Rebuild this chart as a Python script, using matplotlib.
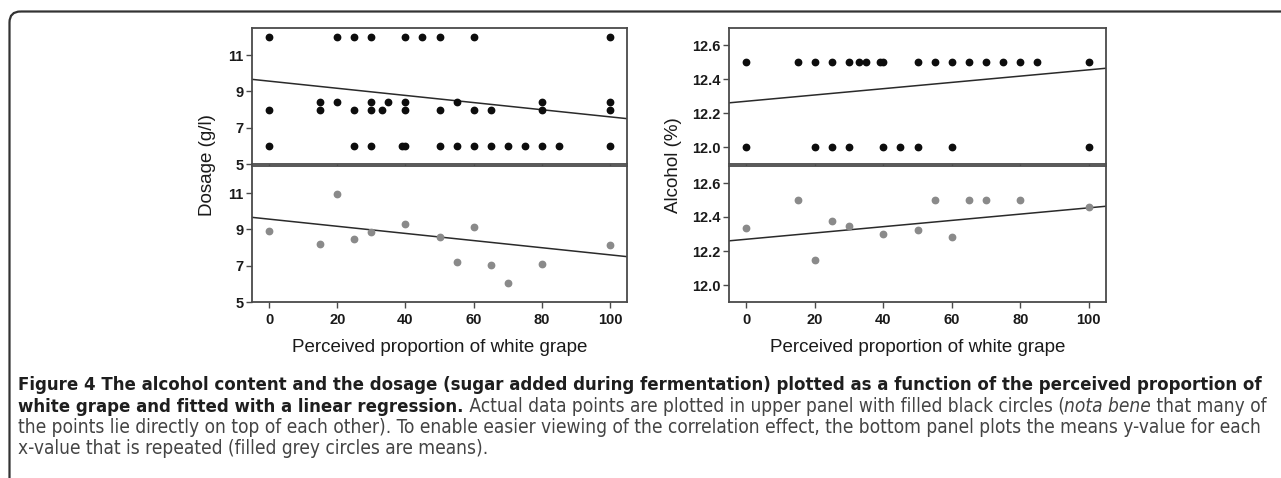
import numpy as np
import matplotlib
matplotlib.use("Agg")
import matplotlib.pyplot as plt
from matplotlib.patches import FancyBboxPatch

# upper panels: raw data, grouped by y level
dose_levels = [12.0, 8.4, 8.0, 6.0]
dose_x_by_level = [
    [0, 20, 25, 30, 40, 45, 50, 60, 100],
    [15, 20, 30, 35, 40, 55, 80, 100],
    [0, 15, 25, 30, 33, 40, 50, 60, 65, 80, 100],
    [0, 25, 30, 39, 40, 50, 55, 60, 65, 70, 75, 80, 85, 100],
]
alc_levels = [12.5, 12.0]
alc_x_by_level = [
    [0, 15, 20, 25, 30, 33, 35, 39, 40, 50, 55, 60, 65, 70, 75, 80, 85, 100],
    [0, 20, 25, 30, 40, 45, 50, 60, 100],
]

# lower panels: means for repeated x values
mean_x = [0, 15, 20, 25, 30, 40, 50, 55, 60, 65, 70, 80, 100]
dose_mean = [8.9, 8.2, 10.95, 8.5, 8.88, 9.28, 8.6, 7.22, 9.15, 7.03, 6.03, 7.1, 8.12]
alc_mean = [12.335, 12.5, 12.145, 12.375, 12.35, 12.30, 12.325, 12.5, 12.285, 12.5, 12.5, 12.5, 12.46]

# regression lines (intercept, slope)
dose_fit = (9.57, -0.0197)
alc_fit = (12.269, 0.00185)

xticks = [0, 20, 40, 60, 80, 100]
dose_ticks = [5, 7, 9, 11]
alc_ticks = [12.0, 12.2, 12.4, 12.6]

W, H = 1281, 478
fig = plt.figure(figsize=(W / 100, H / 100), dpi=100)
plt.rcParams['font.family'] = ['Liberation Sans', 'DejaVu Sans']

SPINE = '#4a4a4a'


def px_axes(l, t, r, b):
    return fig.add_axes([l / W, 1 - b / H, (r - l) / W, (b - t) / H])


def style(ax, yticks, ylim, fmt, show_x):
    ax.set_xlim(-5, 105)
    ax.set_ylim(*ylim)
    ax.set_yticks(yticks)
    ax.set_yticklabels([fmt.format(v) for v in yticks])
    ax.set_xticks(xticks)
    for s in ax.spines.values():
        s.set_color(SPINE)
        s.set_linewidth(1.3)
    ax.tick_params(axis='y', direction='out', length=4, width=1, color=SPINE,
                   labelsize=10.5, pad=2)
    if show_x:
        ax.tick_params(axis='x', direction='out', length=4, width=1, color=SPINE,
                       labelsize=10.5, pad=4)
    else:
        ax.tick_params(axis='x', direction='out', length=2, width=1, color=SPINE,
                       labelbottom=False)
    for lab in ax.get_xticklabels() + ax.get_yticklabels():
        lab.set_fontweight('bold')
        lab.set_color('#1a1a1a')


def fit_line(ax, fit):
    xs = np.array([-5, 105])
    ax.plot(xs, fit[0] + fit[1] * xs, color='#2a2a2a', lw=1.1, zorder=1)


# dosage column
ax1 = px_axes(252, 28, 627, 164)
for lev, xs in zip(dose_levels, dose_x_by_level):
    ax1.plot(xs, [lev] * len(xs), 'o', color='#0d0d0d', ms=4.6, zorder=3)
fit_line(ax1, dose_fit)
style(ax1, dose_ticks, (5, 12.5), '{:g}', False)

ax2 = px_axes(252, 166, 627, 302)
ax2.plot(mean_x, dose_mean, 'o', color='#8a8a8a', ms=4.6, zorder=3)
fit_line(ax2, dose_fit)
style(ax2, dose_ticks, (5, 12.5), '{:g}', True)

# alcohol column
ax3 = px_axes(729, 28, 1106, 164)
for lev, xs in zip(alc_levels, alc_x_by_level):
    ax3.plot(xs, [lev] * len(xs), 'o', color='#0d0d0d', ms=4.6, zorder=3)
fit_line(ax3, alc_fit)
style(ax3, alc_ticks, (11.9, 12.7), '{:.1f}', False)

ax4 = px_axes(729, 166, 1106, 302)
ax4.plot(mean_x, alc_mean, 'o', color='#8a8a8a', ms=4.6, zorder=3)
fit_line(ax4, alc_fit)
style(ax4, alc_ticks, (11.9, 12.7), '{:.1f}', True)

lab_kw = dict(fontsize=13.5, color='#1a1a1a')
fig.text(207 / W, 1 - 165 / H, 'Dosage (g/l)', rotation=90, ha='center', va='center', **lab_kw)
fig.text(673 / W, 1 - 165 / H, 'Alcohol (%)', rotation=90, ha='center', va='center', **lab_kw)
fig.text(439.5 / W, 1 - 348 / H, 'Perceived proportion of white grape', ha='center', va='center', **lab_kw)
fig.text(917.5 / W, 1 - 348 / H, 'Perceived proportion of white grape', ha='center', va='center', **lab_kw)

# caption and frame
cap = fig.add_axes([0, 0, 1, 1], zorder=-1)
cap.set_xlim(0, W)
cap.set_ylim(H, 0)
cap.axis('off')
cap.add_patch(FancyBboxPatch((9.5, 11.5), W + 40, H + 40,
                             boxstyle='round,pad=0,rounding_size=11',
                             fc='none', ec='#333333', lw=1.6))

cap_kw = dict(family=['DejaVu Sans'], fontstretch='condensed')
BOLD_C = '#1e1e1e'
REG_C = '#444444'

line1 = 'Figure 4 The alcohol content and the dosage (sugar added during fermentation) plotted as a function of the perceived proportion of'
line3 = 'the points lie directly on top of each other). To enable easier viewing of the correlation effect, the bottom panel plots the means y-value for each'
t1 = cap.text(18, 390, line1, fontweight='bold', color=BOLD_C,
              fontsize=10, va='baseline', ha='left', **cap_kw)
t3 = cap.text(18, 433, line3, color=REG_C, fontsize=10, va='baseline', ha='left', **cap_kw)
r = fig.canvas.get_renderer()
bfs = 10 * 1240 / t1.get_window_extent(r).width
rfs = min(10 * 1244 / t3.get_window_extent(r).width, bfs * 1.08)
t1.set_fontsize(bfs)
t3.set_fontsize(rfs)

line2 = [('white grape and fitted with a linear regression.', 'bold', 'normal', BOLD_C, bfs),
         (' Actual data points are plotted in upper panel with filled black circles (', 'normal', 'normal', REG_C, rfs),
         ('nota bene', 'normal', 'italic', REG_C, rfs),
         (' that many of', 'normal', 'normal', REG_C, rfs)]
prev = None
for txt, w, st, c, fs in line2:
    if prev is None:
        prev = cap.text(18, 411.5, txt, fontweight=w, fontstyle=st,
                        color=c, fontsize=fs, va='baseline', ha='left', **cap_kw)
    else:
        prev = cap.annotate(txt, xy=(1, 0), xycoords=prev, fontweight=w,
                            fontstyle=st, color=c, fontsize=fs, va='bottom', ha='left', **cap_kw)

cap.text(18, 454.5, 'x-value that is repeated (filled grey circles are means).',
         color=REG_C, fontsize=rfs, va='baseline', ha='left', **cap_kw)

fig.savefig('out.png', dpi=100)
